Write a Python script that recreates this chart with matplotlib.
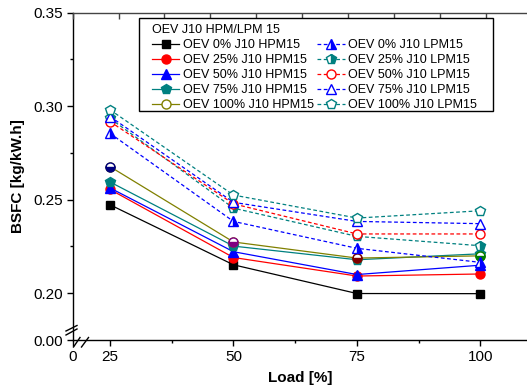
import numpy as np
import matplotlib
matplotlib.use("Agg")
import matplotlib.pyplot as plt
from matplotlib.patches import Rectangle

plt.rcParams['font.family'] = ['Liberation Sans', 'DejaVu Sans']

## data (BSFC kg/kW.h vs load %)
load = [25, 50, 75, 100]
hpm_0 = [0.2473, 0.2152, 0.1988, 0.1982]
hpm_25 = [0.2555, 0.2191, 0.2092, 0.2103]
hpm_50 = [0.2563, 0.2222, 0.2100, 0.2150]
hpm_75 = [0.2595, 0.2252, 0.2179, 0.2211]
hpm_100 = [0.2677, 0.2274, 0.2188, 0.2200]
lpm_0 = [0.2855, 0.2384, 0.2240, 0.2165]
lpm_25 = [0.2935, 0.2455, 0.2304, 0.2254]
lpm_50 = [0.2918, 0.2478, 0.2317, 0.2317]
lpm_75 = [0.2945, 0.2486, 0.2384, 0.2372]
lpm_100 = [0.2981, 0.2525, 0.2402, 0.2441]

hpm_labels = ["OEV 0% J10 HPM15", "OEV 25% J10 HPM15", "OEV 50% J10 HPM15",
              "OEV 75% J10 HPM15", "OEV 100% J10 HPM15"]
lpm_labels = ["OEV 0% J10 LPM15", "OEV 25% J10 LPM15", "OEV 50% J10 LPM15",
              "OEV 75% J10 LPM15", "OEV 100% J10 LPM15"]
olive_pt_colors = ['#000080', '#800080', '#800000', '#008000']

x_ticks = [0, 25, 50, 75, 100]
y_ticks = [0.0, 0.20, 0.25, 0.30, 0.35]


# broken axes: 0..25 and 0..0.20 are squeezed
def fx(x):
    x = np.asarray(x, float)
    return np.where(x < 25, x * 0.302, x - 17.45)

def fx_inv(u):
    u = np.asarray(u, float)
    return np.where(u < 7.55, u / 0.302, u + 17.45)

def fy(y):
    y = np.asarray(y, float)
    return np.where(y < 0.2, y * 0.125, y - 0.175)

def fy_inv(u):
    u = np.asarray(u, float)
    return np.where(u < 0.025, u / 0.125, u + 0.175)


W, H = 527, 390
fig = plt.figure(figsize=(W / 100, H / 100), dpi=100)
left, right, top, bottom = 72.7, 554.6, 12.7, 340
ax = fig.add_axes([left / W, 1 - bottom / H, (right - left) / W, (bottom - top) / H])
ax.set_xscale('function', functions=(fx, fx_inv))
ax.set_yscale('function', functions=(fy, fy_inv))
ax.set_xlim(0, 115)
ax.set_ylim(0, 0.35)

ms = 6.5
lw = 0.9
# solid HPM lines
ax.plot(load, hpm_0, color='black', lw=lw, marker='s', ms=ms - 0.5, label=hpm_labels[0])
ax.plot(load, hpm_25, color='red', lw=lw, marker='o', ms=ms, label=hpm_labels[1])
ax.plot(load, hpm_50, color='blue', lw=lw, marker='^', ms=ms, label=hpm_labels[2])
ax.plot(load, hpm_75, color='#008080', lw=lw, marker='p', ms=ms + 0.5, label=hpm_labels[3])
ax.plot(load, hpm_100, color='#808000', lw=lw, marker='o', ms=ms, mfc='white',
        mec='#808000', label=hpm_labels[4])
for xv, yv, c in zip(load, hpm_100, olive_pt_colors):
    ax.plot([xv], [yv], marker='o', ms=ms, color=c, fillstyle='bottom',
            markerfacecoloralt='white', mec=c, ls='none')

# dashed LPM lines
dash = (0, (3, 2))
ax.plot(load, lpm_0, color='blue', lw=lw, ls=dash, marker='^', ms=ms,
        fillstyle='right', markerfacecoloralt='white', label=lpm_labels[0])
ax.plot(load, lpm_25, color='#008080', lw=lw, ls=dash, marker='p', ms=ms + 0.5,
        fillstyle='right', markerfacecoloralt='white', label=lpm_labels[1])
ax.plot(load, lpm_50, color='red', lw=lw, ls=dash, marker='o', ms=ms,
        mfc='white', label=lpm_labels[2])
ax.plot(load, lpm_75, color='blue', lw=lw, ls=dash, marker='^', ms=ms,
        mfc='white', label=lpm_labels[3])
ax.plot(load, lpm_100, color='#008080', lw=lw, ls=dash, marker='p', ms=ms + 0.5,
        mfc='white', label=lpm_labels[4])

# ticks
ax.set_xticks(x_ticks)
ax.set_xticklabels([str(t) for t in x_ticks])
ax.set_xticks([37.5, 62.5, 87.5, 112.5], minor=True)
ax.set_yticks(y_ticks)
ax.set_yticklabels(["%.2f" % t for t in y_ticks])
ax.set_yticks([0.225, 0.275, 0.325], minor=True)
ax.tick_params(which='major', direction='out', length=4.3, width=1, labelsize=11, pad=3)
ax.tick_params(which='minor', direction='out', length=2.5, width=1)
ax.spines['right'].set_visible(False)
for sp in ['left', 'bottom', 'top']:
    ax.spines[sp].set_linewidth(1.0)
ax.spines['top'].set_color('#444444')

# top axis ticks (inward)
ax2 = ax.twiny()
ax2.set_xlim(0, 10.5)
ax2.set_xticks(range(0, 11))
ax2.tick_params(axis='x', direction='in', length=4, width=1, labeltop=False, colors='#444444')
for sp in ax2.spines.values():
    sp.set_visible(False)

ax.set_xlabel("Load [%]", fontsize=11, fontweight='bold')
ax.xaxis.set_label_coords((300 - left) / (right - left), -31 / (bottom - top))
ax.set_ylabel("BSFC [kg/kW.h]", fontsize=11, fontweight='bold', labelpad=6)

# break marks
def brk(x0, y0, x1, y1):
    fig.add_artist(plt.Line2D([x0 / W, x1 / W], [1 - y0 / H, 1 - y1 / H],
                              color='black', lw=1.0))
brk(66, 335, 77, 329)
brk(66, 331, 77, 325.5)
brk(73.5, 347, 80, 337.5)
brk(81.5, 347, 88.5, 337.5)

# legend box drawn separately (Origin-style wider padding)
fig.add_artist(Rectangle((139 / W, 1 - 111 / H), (493 - 139) / W, (111 - 17.7) / H,
                         transform=fig.transFigure, fill=True, facecolor='white',
                         edgecolor='black', lw=1.0, zorder=9))
leg = ax.legend(ncol=2, loc='upper left', bbox_to_anchor=(148 / W, 1 - 20 / H),
                bbox_transform=fig.transFigure, fontsize=9, title="OEV J10 HPM/LPM 15",
                title_fontsize=9, alignment='left', frameon=False,
                borderaxespad=0, handlelength=2.2,
                columnspacing=0.25, labelspacing=0.25, handletextpad=0.3,
                borderpad=0.3)
leg.set_zorder(10)
fig.legends.append(leg)
ax.legend_ = None

fig.savefig("out.png", dpi=100)
